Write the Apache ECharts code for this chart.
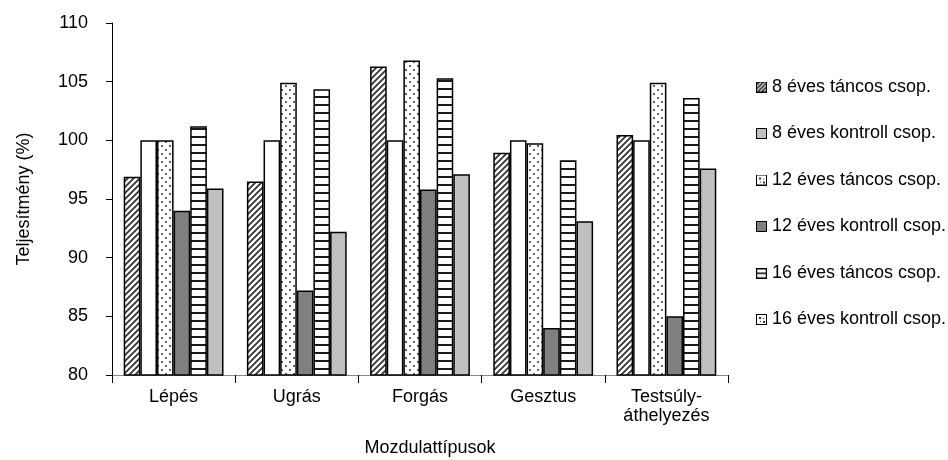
<!DOCTYPE html>
<html>
<head>
<meta charset="utf-8">
<script src="https://cdn.jsdelivr.net/npm/echarts@6/dist/echarts.min.js"></script>
<style>
  html, body { margin: 0; padding: 0; background: #fff; }
  #chart { width: 948px; height: 460px; }
</style>
</head>
<body>
<div id="chart"></div>
<script>
// Movement types on the x axis
const categories = ['Lépés', 'Ugrás', 'Forgás', 'Gesztus', 'Testsúly-\náthelyezés'];

// Performance (%) per group
const dancers8 = [96.9, 96.5, 106.3, 98.95, 100.45];
const control8 = [100, 100, 100, 100, 100];
const dancers12 = [100, 104.9, 106.8, 99.75, 104.9];
const control12 = [94.0, 87.2, 95.8, 84.0, 85.0];
const dancers16 = [101.2, 104.35, 105.3, 98.3, 103.6];
const control16 = [95.9, 92.2, 97.1, 93.1, 97.6];

const seriesNames = [
  '8 éves táncos csop.',
  '8 éves kontroll csop.',
  '12 éves táncos csop.',
  '12 éves kontroll csop.',
  '16 éves táncos csop.',
  '16 éves kontroll csop.'
];

const yTicks = [80, 85, 90, 95, 100, 105, 110];

const FONT = 'Liberation Sans';

// --- bar fill patterns ---
function tile(w, h, draw) {
  const c = document.createElement('canvas');
  c.width = w; c.height = h;
  const ctx = c.getContext('2d');
  ctx.fillStyle = '#fff';
  ctx.fillRect(0, 0, w, h);
  draw(ctx);
  return c;
}

function diagonal(ctx, w, h, step) {
  ctx.strokeStyle = '#333';
  ctx.lineWidth = 1.8;
  ctx.beginPath();
  for (let k = -h; k < w + h; k += step) {
    ctx.moveTo(k - 1, h + 1);
    ctx.lineTo(k + h + 1, -1);
  }
  ctx.stroke();
}

const diagTile = tile(6, 6, ctx => diagonal(ctx, 6, 6, 6));
const dotTile = tile(8, 8, ctx => {
  ctx.fillStyle = '#666';
  ctx.fillRect(1, 1, 2, 2);
  ctx.fillRect(5, 5, 2, 2);
});
const hLineTile = tile(4, 8, ctx => {
  ctx.fillStyle = '#1a1a1a';
  ctx.fillRect(0, 0, 4, 2);
});

const pattern = c => ({ image: c, repeat: 'repeat' });
const barFills = [pattern(diagTile), '#ffffff', pattern(dotTile), '#808080', pattern(hLineTile), '#c0c0c0'];
const seriesData = [dancers8, control8, dancers12, control12, dancers16, control16];

// --- legend swatches (11x11 with a black frame) ---
function swatch(draw, frame) {
  const c = tile(11, 11, draw);
  const ctx = c.getContext('2d');
  ctx.strokeStyle = '#000';
  ctx.lineWidth = frame || 1;
  ctx.strokeRect(0.5, 0.5, 10, 10);
  return 'image://' + c.toDataURL();
}
const fillWith = col => ctx => { ctx.fillStyle = col; ctx.fillRect(0, 0, 11, 11); };
const fewDots = ctx => {
  ctx.fillStyle = '#333';
  ctx.fillRect(3, 3, 2, 2);
  ctx.fillRect(7, 4, 1, 1);
  ctx.fillRect(4, 7, 1, 1);
  ctx.fillRect(7, 7, 2, 2);
};
const legendIcons = [
  swatch(ctx => diagonal(ctx, 11, 11, 4)),
  swatch(fillWith('#c0c0c0')),
  swatch(fewDots),
  swatch(fillWith('#808080')),
  swatch(ctx => { ctx.fillStyle = '#000'; ctx.fillRect(0, 0, 11, 2); ctx.fillRect(0, 5, 11, 1.5); }, 1.4),
  swatch(fewDots)
];

const chart = echarts.init(document.getElementById('chart'));

chart.setOption({
  backgroundColor: '#fff',
  animation: false,
  grid: { left: 112, right: 220, top: 23, bottom: 85, outerBoundsMode: 'none', containLabel: false },
  legend: {
    orient: 'vertical',
    left: 751,
    top: 72,
    itemWidth: 11,
    itemHeight: 11,
    itemGap: 26.5,
    textStyle: { fontFamily: FONT, fontSize: 18, color: '#000', lineHeight: 20 },
    data: seriesNames.map((n, i) => ({ name: n, icon: legendIcons[i] }))
  },
  xAxis: {
    type: 'category',
    data: categories,
    name: 'Mozdulattípusok',
    nameLocation: 'middle',
    nameGap: 64,
    nameTextStyle: { fontFamily: FONT, fontSize: 18, color: '#000', padding: [0, 0, 0, 20] },
    axisLine: { lineStyle: { color: '#888', width: 1 } },
    axisTick: { show: true, length: 8, lineStyle: { color: '#000' } },
    axisLabel: { fontFamily: FONT, fontSize: 18, color: '#000', margin: 13, lineHeight: 19 }
  },
  yAxis: {
    type: 'value',
    min: yTicks[0],
    max: yTicks[yTicks.length - 1],
    interval: 5,
    name: 'Teljesítmény (%)',
    nameLocation: 'middle',
    nameGap: 79,
    nameRotate: 90,
    nameTextStyle: { fontFamily: FONT, fontSize: 18, color: '#000' },
    axisLine: { show: true, lineStyle: { color: '#000', width: 1 } },
    axisTick: { show: true, length: 6, lineStyle: { color: '#000' } },
    axisLabel: { fontFamily: FONT, fontSize: 18, color: '#000', margin: 24 },
    splitLine: { show: false }
  },
  series: seriesNames.map((n, i) => ({
    name: n,
    type: 'bar',
    data: seriesData[i],
    barGap: '0%',
    barCategoryGap: '19%',
    itemStyle: { color: barFills[i], borderColor: '#000', borderWidth: 1.5 }
  }))
});
</script>
</body>
</html>
